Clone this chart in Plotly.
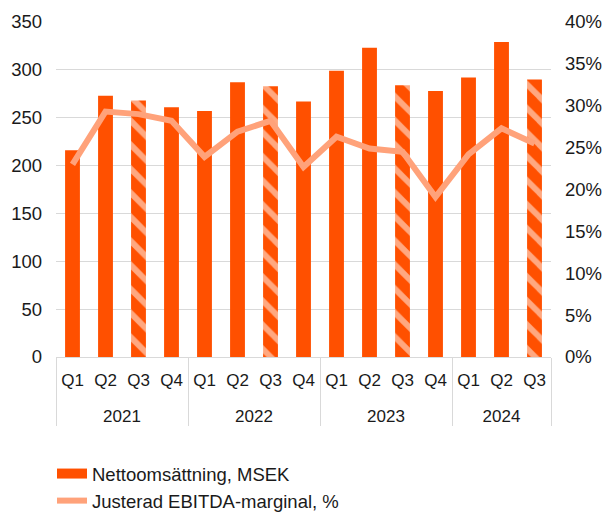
import plotly.graph_objects as go
from plotly.subplots import make_subplots

years = ["2021"] * 4 + ["2022"] * 4 + ["2023"] * 4 + ["2024"] * 3
quarters = ["Q1", "Q2", "Q3", "Q4"] * 3 + ["Q1", "Q2", "Q3"]
revenue = [216, 273, 268, 261, 257, 287, 283, 267, 299, 323, 284, 278, 292, 329, 290]
ebitda_margin = [23.0, 29.3, 29.0, 28.2, 23.9, 26.9, 28.2, 22.7, 26.3, 24.9, 24.5, 19.1, 24.2, 27.3, 25.5]

ORANGE = "#FF5000"
SALMON = "#FFA27A"
FONT = "Liberation Sans, Arial, sans-serif"

# Q3 bars are hatched
patterns = ["\\" if q == "Q3" else "" for q in quarters]
# year row sits a line lower than plotly's default, as in the original
year_labels = ["<br>" + y for y in years]

fig = make_subplots(specs=[[{"secondary_y": True}]])

fig.add_trace(go.Bar(
    x=[year_labels, quarters],
    y=revenue,
    name="Nettoomsättning, MSEK",
    showlegend=False,
    marker=dict(
        color=ORANGE,
        line=dict(width=0),
        pattern=dict(shape=patterns, fgcolor="white", bgcolor=ORANGE,
                     size=17, solidity=0.35, fillmode="overlay"),
    ),
), secondary_y=False)

# legend entry drawn as a thick bar-like swatch
fig.add_trace(go.Scatter(
    x=[None], y=[None],
    name="Nettoomsättning, MSEK",
    mode="lines",
    line=dict(color=ORANGE, width=10),
), secondary_y=False)

fig.add_trace(go.Scatter(
    x=[year_labels, quarters],
    y=ebitda_margin,
    name="Justerad EBITDA-marginal, %",
    mode="lines",
    line=dict(color=SALMON, width=6),
), secondary_y=True)

fig.update_layout(
    width=609, height=513,
    margin=dict(l=56, r=58, t=22, b=156, autoexpand=False),
    plot_bgcolor="white", paper_bgcolor="white",
    font=dict(family=FONT, size=18.5, color="#1a1a1a"),
    bargap=0.55,
    showlegend=True,
    legend=dict(orientation="v", xref="container", yref="container",
                x=0.0854, xanchor="left", y=0.113, yanchor="top",
                font=dict(size=18.5), bgcolor="rgba(0,0,0,0)"),
)

fig.update_xaxes(
    type="multicategory", automargin=False, domain=[0, 1],
    showline=True, linecolor="#D9D9D9", linewidth=1,
    showdividers=True, dividercolor="#D9D9D9", dividerwidth=1,
    ticks="", showgrid=False, tickangle=0, tickfont=dict(size=17),
    ticklabelstandoff=8,
)
fig.update_yaxes(
    range=[0, 350], dtick=50, showgrid=True, gridcolor="#D9D9D9", gridwidth=1,
    zeroline=False, ticks="", automargin=False, ticklabelstandoff=13,
    secondary_y=False,
)
fig.update_yaxes(
    range=[0, 40], dtick=5, ticksuffix="%", showgrid=False,
    zeroline=False, ticks="", automargin=False, ticklabelstandoff=13,
    secondary_y=True,
)

# the page is photographed at the window's top-left corner
fig.write_html("out.html", config={"displayModeBar": False},
               post_script="document.body.style.margin='0';")
